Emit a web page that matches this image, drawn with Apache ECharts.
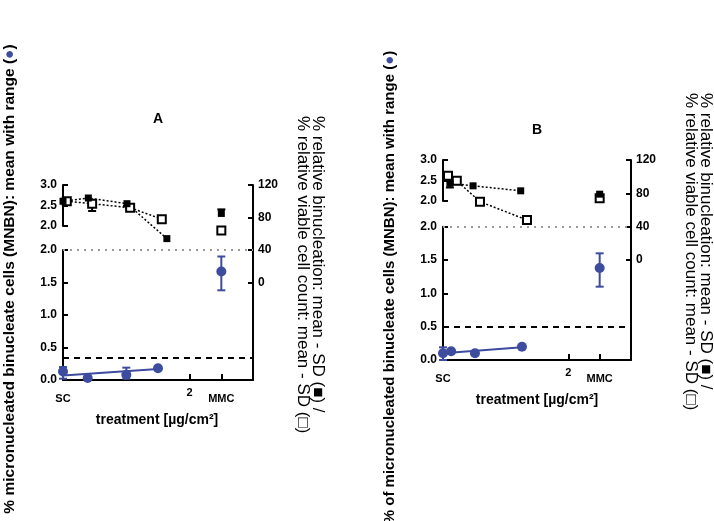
<!DOCTYPE html>
<html><head><meta charset="utf-8">
<script src="https://cdn.jsdelivr.net/npm/echarts@6/dist/echarts.min.js"></script>
<style>html,body{margin:0;padding:0;background:#fff}#c{width:714px;height:521px}</style>
</head><body><div id="c"></div>
<script>
// ---------- data ----------
const xTickVals = [0, 2, 2.5];
const xTickText = ['SC', '2', 'MMC'];
const rightTicks = [0, 40, 80, 120];

// Panel A  (squares: right axis %, circles: left axis %MNBN)
const aBinucX = [0, 0.4, 1.01, 1.64, 2.5];
const aBinuc = [100, 104, 97, 54, 85];
const aBinucSD = [0, 0, 3, 0, -5];
const aViableX = [0.06, 0.46, 1.06, 1.56, 2.5];
const aViable = [100, 97, 92, 78, 64];
const aViableSD = [0, 9, 3, 0, 0];
const aMnbnX = [0, 0.39, 1.0, 1.5, 2.5];
const aMnbn = [0.13, 0.03, 0.08, 0.18, 1.67];
const aMnbnLow = [0.02, 0.03, 0.02, 0.18, 1.38];
const aMnbnHigh = [0.2, 0.03, 0.19, 0.18, 1.9];
const aFitX = [0, 1.5];
const aFitY = [0.07, 0.17];
const aThreshold = 0.35;
const aStar = [2.78, 1.64];

// Panel B
const bBinucX = [0.11, 0.48, 1.24, 2.5];
const bBinuc = [92, 89, 83, 79];
const bBinucSD = [5, 0, 0, 0];
const bViableX = [0.08, 0.22, 0.59, 1.34, 2.5];
const bViable = [101, 95, 70, 48, 74];
const bViableSD = [0, 0, 0, 0, 0];
const bMnbnX = [0, 0.13, 0.51, 1.26, 2.5];
const bMnbn = [0.1, 0.13, 0.1, 0.2, 1.38];
const bMnbnLow = [0.0, 0.13, 0.1, 0.2, 1.1];
const bMnbnHigh = [0.19, 0.13, 0.1, 0.2, 1.6];
const bFitX = [0, 1.26];
const bFitY = [0.1, 0.19];
const bThreshold = 0.5;
const bStar = [2.78, 1.35];

const refLine = 40;

// ---------- styling ----------
const FONT = "'Liberation Sans', Arial, sans-serif";
const BLUE = '#3D4C9E';
const RED = '#E3202B';

const chart = echarts.init(document.getElementById('c'), null, {renderer: 'canvas'});

function zip(xs, ys) { return xs.map((x, i) => [x, ys[i]]); }

function errSeries(xs, ends, starts, color, xi, yi, bothCaps) {
  return {
    type: 'custom', xAxisIndex: xi, yAxisIndex: yi, silent: true, z: 3,
    data: xs.map((x, i) => [x, ends[i], starts[i]]),
    renderItem(params, api) {
      const x = api.value(0), e = api.value(1), s = api.value(2);
      if (Math.abs(e - s) < 1e-9) return null;
      const a = api.coord([x, e]), b = api.coord([x, s]);
      const w = 4, st = {stroke: color, lineWidth: 2};
      const ch = [
        {type: 'line', shape: {x1: a[0], y1: a[1], x2: b[0], y2: b[1]}, style: st},
        {type: 'line', shape: {x1: a[0] - w, y1: a[1], x2: a[0] + w, y2: a[1]}, style: st}
      ];
      if (bothCaps) ch.push({type: 'line', shape: {x1: b[0] - w, y1: b[1], x2: b[0] + w, y2: b[1]}, style: st});
      return {type: 'group', children: ch};
    }
  };
}

const axLine = {show: true, onZero: false, lineStyle: {color: '#000', width: 2}};
const tickLab = {color: '#000', fontFamily: FONT, fontWeight: 'bold', fontSize: 12};

function panel(p, k) {
  const xi = k * 3, yi = k * 3;
  const lowerTop = p.top + p.height / 3;
  const grids = [
    {left: p.left, top: p.top, width: p.width, height: p.height},
    {left: p.left, top: lowerTop, width: p.width, height: p.height * 2 / 3},
    {left: p.left, top: p.top, width: p.width, height: p.upperH}
  ];
  const xAxes = [
    {type: 'value', gridIndex: k * 3, position: 'bottom', min: 0, max: 3, axisLine: axLine,
     axisTick: {show: true, inside: true, length: 6, customValues: [2, 2.5], lineStyle: {width: 2, color: '#000'}},
     axisLabel: Object.assign({}, tickLab, {fontSize: 11, margin: 7, customValues: xTickVals,
       formatter: v => { const i = xTickVals.indexOf(v); const t = i >= 0 ? xTickText[i] : ''; return t === '2' ? '{r|' + t + '}' : '{d|' + t + '}'; },
       rich: {r: {fontSize: 11, fontWeight: 'bold', fontFamily: FONT}, d: {fontSize: 11, fontWeight: 'bold', fontFamily: FONT, padding: [6, 0, 0, 0]}}}),
     splitLine: {show: false}},
    {type: 'value', gridIndex: k * 3 + 1, min: 0, max: 3, show: false},
    {type: 'value', gridIndex: k * 3 + 2, min: 0, max: 3, show: false}
  ];
  const yAxes = [
    {type: 'value', gridIndex: k * 3, position: 'right', min: -120, max: 120, axisLine: axLine,
     axisTick: {show: true, inside: true, length: 5, customValues: rightTicks, lineStyle: {width: 2, color: '#000'}},
     axisLabel: Object.assign({}, tickLab, {margin: 5, customValues: rightTicks}),
     splitLine: {show: false}},
    {type: 'value', gridIndex: k * 3 + 1, position: 'left', min: 0, max: 2, interval: 0.5, axisLine: axLine,
     axisTick: {show: true, inside: true, length: 5, lineStyle: {width: 2, color: '#000'}},
     axisLabel: Object.assign({}, tickLab, {margin: 6, formatter: v => v.toFixed(1)}),
     splitLine: {show: false}},
    {type: 'value', gridIndex: k * 3 + 2, position: 'left', min: 2, max: 3, interval: 0.5, axisLine: axLine,
     axisTick: {show: true, inside: true, length: 5, lineStyle: {width: 2, color: '#000'}},
     axisLabel: Object.assign({}, tickLab, {margin: 6, formatter: v => v.toFixed(1)}),
     splitLine: {show: false}}
  ];
  const series = [
    {type: 'line', xAxisIndex: xi, yAxisIndex: yi, data: [], silent: true,
     markLine: {silent: true, symbol: 'none', label: {show: false},
       lineStyle: {color: '#9a9a9a', type: [2, 5], width: 2}, data: [{yAxis: refLine}]}},
    {type: 'line', xAxisIndex: xi, yAxisIndex: yi, data: zip(p.binucX, p.binuc).slice(0, p.binucX.length - 1),
     showSymbol: false, symbol: 'none', lineStyle: {color: '#000', width: 1.5, type: [2, 2]}, z: 2, silent: true},
    {type: 'line', xAxisIndex: xi, yAxisIndex: yi, data: zip(p.viableX, p.viable).slice(0, p.viableX.length - 1),
     showSymbol: false, symbol: 'none', lineStyle: {color: '#000', width: 1.5, type: [2, 2]}, z: 2, silent: true},
    errSeries(p.viableX, p.viable.map((v, i) => v - p.viableSD[i]), p.viable, '#000', xi, yi, false),
    errSeries(p.binucX, p.binuc.map((v, i) => v - p.binucSD[i]), p.binuc, '#000', xi, yi, false),
    {type: 'scatter', xAxisIndex: xi, yAxisIndex: yi, data: zip(p.viableX, p.viable), symbol: 'rect', symbolSize: 8,
     itemStyle: {color: '#fff', borderColor: '#000', borderWidth: 2, opacity: 1}, z: 4, silent: true},
    {type: 'scatter', xAxisIndex: xi, yAxisIndex: yi, data: zip(p.binucX, p.binuc), symbol: 'rect', symbolSize: 7,
     itemStyle: {color: '#000', opacity: 1}, z: 5, silent: true},
    {type: 'line', xAxisIndex: xi + 1, yAxisIndex: yi + 1, data: [], silent: true,
     markLine: {silent: true, symbol: 'none', label: {show: false},
       lineStyle: {color: '#000', type: [6, 5], width: 2}, data: [{yAxis: p.threshold}]}},
    {type: 'line', xAxisIndex: xi + 1, yAxisIndex: yi + 1, data: zip(p.fitX, p.fitY), showSymbol: false, symbol: 'none',
     lineStyle: {color: BLUE, width: 2}, z: 2, silent: true},
    errSeries(p.mnbnX, p.mnbnLow, p.mnbnHigh, BLUE, xi + 1, yi + 1, true),
    {type: 'scatter', xAxisIndex: xi + 1, yAxisIndex: yi + 1, data: zip(p.mnbnX, p.mnbn), symbol: 'circle', symbolSize: 10,
     itemStyle: {color: BLUE, opacity: 1}, z: 5, silent: true},
    {type: 'scatter', xAxisIndex: xi + 1, yAxisIndex: yi + 1, data: [p.star], symbolSize: 1, itemStyle: {opacity: 0},
     label: {show: true, position: 'inside', formatter: '*', color: RED, fontSize: 26, fontWeight: 'bold', fontFamily: FONT, offset: [0, 5]},
     z: 6, silent: true}
  ];
  return {grids, xAxes, yAxes, series};
}

const PA = panel({left: 63, top: 185, width: 190, height: 195, upperH: 41,
  binucX: aBinucX, binuc: aBinuc, binucSD: aBinucSD, viableX: aViableX, viable: aViable, viableSD: aViableSD,
  mnbnX: aMnbnX, mnbn: aMnbn, mnbnLow: aMnbnLow, mnbnHigh: aMnbnHigh, fitX: aFitX, fitY: aFitY,
  threshold: aThreshold, star: aStar}, 0);
const PB = panel({left: 443, top: 160, width: 188, height: 200, upperH: 41,
  binucX: bBinucX, binuc: bBinuc, binucSD: bBinucSD, viableX: bViableX, viable: bViable, viableSD: bViableSD,
  mnbnX: bMnbnX, mnbn: bMnbn, mnbnLow: bMnbnLow, mnbnHigh: bMnbnHigh, fitX: bFitX, fitY: bFitY,
  threshold: bThreshold, star: bStar}, 1);

const leftA = '% micronucleated binucleate cells (MNBN): mean with range ({b|●})';
const leftB = '% of micronucleated binucleate cells (MNBN): mean with range ({b|●})';
const rightTxt = '% relative binucleation: mean - SD (■) /\n% relative viable cell count: mean - SD (□)';
const xTitle = 'treatment [µg/cm²]';

function rotLabel(x, y, text, size) {
  return {type: 'text', x, y, rotation: Math.PI / 2,
    style: {text, fill: '#000', font: 'bold ' + size + 'px ' + FONT, align: 'center', verticalAlign: 'middle',
      rich: {b: {fill: BLUE, font: 'bold ' + size + 'px ' + FONT}}}};
}
function rightLabel(x, y) {
  return {type: 'text', x, y, rotation: -Math.PI / 2,
    style: {text: rightTxt, font: '17px ' + FONT, fill: '#000', align: 'left', verticalAlign: 'middle', lineHeight: 15}};
}

chart.setOption({
  animation: false,
  backgroundColor: '#fff',
  grid: PA.grids.concat(PB.grids),
  xAxis: PA.xAxes.concat(PB.xAxes),
  yAxis: PA.yAxes.concat(PB.yAxes),
  series: PA.series.concat(PB.series),
  graphic: [
    {type: 'text', x: 158, y: 119, style: {text: 'A', font: 'bold 14px ' + FONT, fill: '#000', align: 'center', verticalAlign: 'middle'}},
    {type: 'text', x: 537, y: 130, style: {text: 'B', font: 'bold 14px ' + FONT, fill: '#000', align: 'center', verticalAlign: 'middle'}},
    {type: 'text', x: 157, y: 420, style: {text: xTitle, font: 'bold 14px ' + FONT, fill: '#000', align: 'center', verticalAlign: 'middle'}},
    {type: 'text', x: 537, y: 400, style: {text: xTitle, font: 'bold 14px ' + FONT, fill: '#000', align: 'center', verticalAlign: 'middle'}},
    rotLabel(10, 279, leftA, 15.5),
    rotLabel(390, 287, leftB, 15),
    rightLabel(310, 116),
    rightLabel(698, 93)
  ]
});
</script></body></html>
